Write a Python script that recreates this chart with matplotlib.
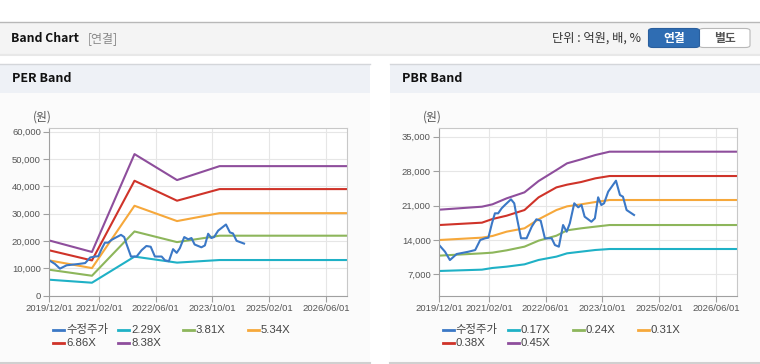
import pandas as pd
import matplotlib
import matplotlib.pyplot as plt
import matplotlib.dates as mdates
from matplotlib.patches import Rectangle, FancyBboxPatch
from matplotlib.lines import Line2D

plt.rcParams['font.family'] = ['Liberation Sans', 'Noto Sans CJK KR', 'DejaVu Sans']

W, H = 760, 364

# ---- data ----
price_dates = ['2019-12-07', '2020-01-19', '2020-03-01', '2020-04-28', '2020-08-07', '2020-10-04',
               '2020-11-16', '2020-12-28', '2021-01-25', '2021-02-25', '2021-03-22', '2021-04-19',
               '2021-05-19', '2021-06-16', '2021-08-07', '2021-09-04', '2021-09-25', '2021-11-01',
               '2021-12-19', '2022-02-01', '2022-03-13', '2022-04-19', '2022-05-25', '2022-07-22',
               '2022-08-19', '2022-09-22', '2022-10-28', '2022-11-28', '2022-12-25', '2023-02-01',
               '2023-03-07', '2023-04-04', '2023-05-01', '2023-06-28', '2023-07-28', '2023-08-25',
               '2023-09-21', '2023-10-15', '2023-11-19', '2024-01-25', '2024-02-28', '2024-03-25',
               '2024-04-25', '2024-06-28']
price = [12760, 11600, 9900, 11130, 11600, 11940,
         13980, 14330, 14450, 17380, 19410, 19410,
         20430, 21100, 22260, 21450, 18730, 14330,
         14330, 16690, 18190, 17910, 14330, 14330,
         12960, 12620, 17030, 15670, 17380, 21450,
         20630, 21100, 18730, 17700, 18390, 22670,
         21100, 21450, 23810, 26050, 23140, 22790,
         20080, 19070]

per_dates = ['2019-12-01', '2020-12-01', '2021-12-01', '2022-12-01', '2023-12-01', '2026-12-01']
per_labels = ['2.29X', '3.81X', '5.34X', '6.86X', '8.38X']
per_229 = [5850, 4750, 14300, 12100, 13050, 13050]
per_381 = [9500, 7300, 23500, 19600, 21950, 21950]
per_534 = [12900, 10100, 32900, 27300, 30200, 30200]
per_686 = [16600, 12900, 42050, 34750, 39000, 39000]
per_838 = [20200, 16000, 51800, 42300, 47400, 47400]

pbr_dates = ['2019-12-01', '2020-12-01', '2021-03-01', '2021-07-01', '2021-12-01', '2022-04-01',
             '2022-09-01', '2022-12-01', '2023-04-01', '2023-08-01', '2023-12-01', '2026-12-01']
pbr_labels = ['0.17X', '0.24X', '0.31X', '0.38X', '0.45X']
pbr_017 = [7680, 7950, 8290, 8560, 9030, 9920, 10600, 11270, 11610, 11950, 12150, 12150]
pbr_024 = [10800, 11270, 11410, 11880, 12630, 13850, 14860, 15950, 16360, 16700, 17030, 17030]
pbr_031 = [13980, 14460, 14800, 15680, 16360, 18190, 20080, 20830, 21240, 21710, 22120, 22120]
pbr_038 = [17030, 17510, 18250, 18930, 20080, 22660, 24690, 25240, 25780, 26530, 27000, 27000]
pbr_045 = [20150, 20760, 21240, 22460, 23680, 25980, 28220, 29580, 30390, 31270, 31950, 31950]

x_ticks = ['2019-12-01', '2021-02-01', '2022-06-01', '2023-10-01', '2025-02-01', '2026-06-01']
per_yticks = [0, 10000, 20000, 30000, 40000, 50000, 60000]
pbr_yticks = [7000, 14000, 21000, 28000, 35000]

price_color = '#3b78c6'
band_colors = ['#1fb1c6', '#8db65b', '#f6a83b', '#cf3329', '#8e4e9c']


def fx(x):
    return x / W


def fy(y):
    return 1 - y / H


def rect(fig, x0, y0, x1, y1, color):
    fig.patches.append(Rectangle((fx(x0), fy(y1)), (x1 - x0) / W, (y1 - y0) / H,
                                 transform=fig.transFigure, facecolor=color,
                                 edgecolor='none', zorder=-5))


def hline(fig, x0, x1, y, color, lw=1.0):
    fig.add_artist(Line2D([fx(x0), fx(x1)], [fy(y), fy(y)], transform=fig.transFigure,
                          color=color, lw=lw, zorder=-4))


fig = plt.figure(figsize=(W / 100, H / 100), dpi=100)
fig.patch.set_facecolor('white')

# header bar
rect(fig, 0, 22, W, 53, '#f4f4f4')
hline(fig, 0, W, 22, '#b8b8b8')
hline(fig, 0, W, 53.5, '#c4c4c4')
hline(fig, 0, W, 55, '#e8e8e8', 1.5)
fig.text(fx(11), fy(38.5), 'Band Chart', fontsize=8.8, fontweight='bold',
         color='#111111', va='center', family=['Noto Sans CJK KR'])
fig.text(fx(88), fy(38.5), '[연결]', fontsize=8.6, color='#888888', va='center',
         family=['Noto Sans CJK KR'])
fig.text(fx(552), fy(38.5), '단위 : 억원, 배, %', fontsize=8.8, color='#333333', va='center',
         family=['Noto Sans CJK KR'])
fig.patches.append(FancyBboxPatch((fx(699), fy(47.5)), 51 / W, 19 / H,
                                  boxstyle='round,pad=0,rounding_size=0.006',
                                  transform=fig.transFigure, facecolor='white',
                                  edgecolor='#b8b8b8', lw=0.8))
fig.patches.append(FancyBboxPatch((fx(648.5), fy(47.5)), 51 / W, 19 / H,
                                  boxstyle='round,pad=0,rounding_size=0.006',
                                  transform=fig.transFigure, facecolor='#2f6db3',
                                  edgecolor='#2a5f9e', lw=0.8))
fig.text(fx(674), fy(38.5), '연결', fontsize=8.5, fontweight='bold', color='white',
         ha='center', va='center', family=['Noto Sans CJK KR'])
fig.text(fx(725), fy(38.5), '별도', fontsize=8.5, fontweight='bold', color='#555555',
         ha='center', va='center', family=['Noto Sans CJK KR'])

# panels
for px0, title in [(0, 'PER Band'), (390, 'PBR Band')]:
    px1 = px0 + 370
    rect(fig, px0, 64, px1, 363, '#fbfbfb')
    rect(fig, px0, 64, px1, 93, '#eef1f6')
    hline(fig, px0, px1, 64, '#d4d6da')
    hline(fig, px0, px1, 363, '#d0d0d0', 1.5)
    fig.text(fx(px0 + 12), fy(79), title, fontsize=9, fontweight='bold', color='#111111',
             va='center', family=['Noto Sans CJK KR'])
    fig.text(fx(px0 + 33), fy(117), '(원)', fontsize=8.5, color='#555555', va='center',
             family=['Noto Sans CJK KR'])

xt = pd.to_datetime(x_ticks)
pd_dates = pd.to_datetime(price_dates)


def setup_axes(ax, yticks, ylim):
    ax.set_zorder(5)
    ax.set_facecolor('white')
    ax.set_xlim(pd.Timestamp('2019-12-01'), pd.Timestamp('2026-12-01'))
    ax.set_ylim(*ylim)
    ax.set_xticks(xt)
    ax.xaxis.set_major_formatter(mdates.DateFormatter('%Y/%m/%d'))
    ax.set_yticks(yticks)
    ax.set_yticklabels([f'{v:,}' for v in yticks])
    ax.grid(True, color='#e6e6e6', lw=0.8)
    ax.set_axisbelow(True)
    for s in ['left', 'bottom']:
        ax.spines[s].set_color('#a0a0a0')
    for s in ['top', 'right']:
        ax.spines[s].set_color('#c8c8c8')
    ax.tick_params(axis='both', colors='#a0a0a0', labelcolor='#555555', labelsize=6.8,
                   length=4, width=0.8, pad=2)


def legend(fig, x0, labels):
    cols = [0, 65, 130, 195]
    rows = [330, 343]
    for i, (lab, col) in enumerate(labels):
        cx = x0 + cols[i % 4]
        cy = rows[i // 4]
        fig.add_artist(Line2D([fx(cx), fx(cx + 11)], [fy(cy), fy(cy)],
                              transform=fig.transFigure, color=col, lw=2))
        fig.text(fx(cx + 13), fy(cy), lab, fontsize=8.2, color='#444444', va='center',
                 family=['Liberation Sans', 'Noto Sans CJK KR'])


ax1 = fig.add_axes([fx(49.3), fy(295.7), 298 / W, (295.7 - 128) / H])
setup_axes(ax1, per_yticks, (0, 61350))
pdt = pd.to_datetime(per_dates)
for vals, c in zip([per_229, per_381, per_534, per_686, per_838], band_colors):
    ax1.plot(pdt, vals, color=c, lw=1.5)
ax1.plot(pd_dates, price, color=price_color, lw=1.5)
legend(fig, 53, [('수정주가', price_color)] + list(zip(per_labels, band_colors)))

ax2 = fig.add_axes([fx(439.3), fy(295.7), 298 / W, (295.7 - 128) / H])
setup_axes(ax2, pbr_yticks, (2650, 36770))
bdt = pd.to_datetime(pbr_dates)
for vals, c in zip([pbr_017, pbr_024, pbr_031, pbr_038, pbr_045], band_colors):
    ax2.plot(bdt, vals, color=c, lw=1.5)
ax2.plot(pd_dates, price, color=price_color, lw=1.5)
legend(fig, 442.7, [('수정주가', price_color)] + list(zip(pbr_labels, band_colors)))

fig.savefig('out.png', dpi=100)
